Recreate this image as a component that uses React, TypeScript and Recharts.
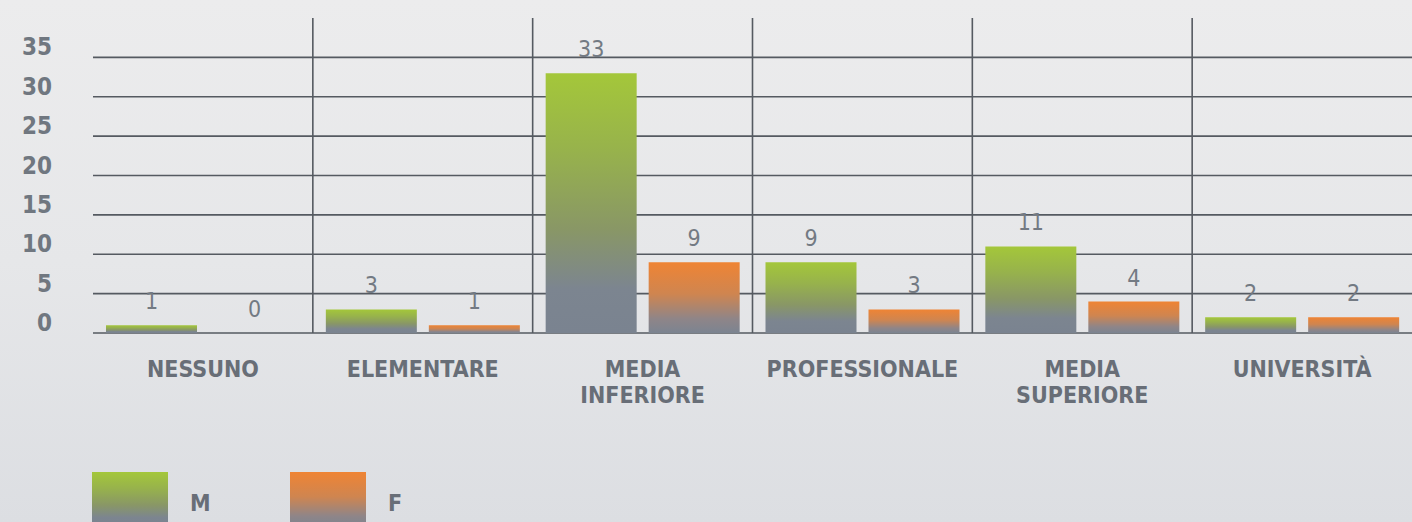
import React from 'react';
import { BarChart, Bar, XAxis, YAxis, CartesianGrid, LabelList, Legend } from 'recharts';

const categories = ['NESSUNO', 'ELEMENTARE', 'MEDIA\nINFERIORE', 'PROFESSIONALE', 'MEDIA\nSUPERIORE', 'UNIVERSITÀ'];
const maleValues = [1, 3, 33, 9, 11, 2];
const femaleValues = [0, 1, 9, 3, 4, 2];
const yTicks = [0, 5, 10, 15, 20, 25, 30, 35];
const yDomain = [0, 40];
const seriesNames = ['M', 'F'];

const data = categories.map((c, i) => ({ category: c, M: maleValues[i], F: femaleValues[i] }));

const FONT = '"DejaVu Sans Condensed", "DejaVu Sans", sans-serif';
const TEXT_GREY = '#686e77';
const LABEL_GREY = '#737a83';
const GRID = '#555a61';

const GreenStops = () => (
  <>
    <stop offset="0%" stopColor="#a4c73a" />
    <stop offset="30%" stopColor="#97b24c" />
    <stop offset="60%" stopColor="#899766" />
    <stop offset="83%" stopColor="#7c8590" />
    <stop offset="100%" stopColor="#7a8390" />
  </>
);
const OrangeStops = () => (
  <>
    <stop offset="0%" stopColor="#ef8434" />
    <stop offset="45%" stopColor="#cf8550" />
    <stop offset="80%" stopColor="#8f8588" />
    <stop offset="100%" stopColor="#7b8491" />
  </>
);

const XTick = (props: any) => {
  const { x, y, payload } = props;
  const lines = String(payload.value).split('\n');
  return (
    <text
      x={x}
      y={y}
      textAnchor="middle"
      fill={TEXT_GREY}
      fontFamily={FONT}
      fontWeight="bold"
      fontSize={23}
    >
      {lines.map((l: string, i: number) => (
        <tspan key={i} x={x} dy={i === 0 ? 44 : 26}>
          {l}
        </tspan>
      ))}
    </text>
  );
};

const YTick = (props: any) => {
  const { y, payload } = props;
  return (
    <text
      x={52}
      y={y - 2}
      textAnchor="end"
      fill="#707780"
      fontFamily={FONT}
      fontWeight="bold"
      fontSize={24}
    >
      {payload.value}
    </text>
  );
};

const ValueLabel = (props: any) => {
  const { x, y, width, value } = props;
  if (value === undefined || value === null) return null;
  return (
    <text
      x={Number(x) + Number(width) / 2}
      y={Number(y) - 16}
      textAnchor="middle"
      fill={LABEL_GREY}
      fontFamily={FONT}
      fontSize={23}
    >
      {value}
    </text>
  );
};

const renderLegend = () => (
  <div style={{ position: 'relative', width: 420, height: 60 }}>
    {seriesNames.map((n, i) => (
      <div key={n} style={{ position: 'absolute', left: i * 198, top: 0 }}>
        <svg width={76} height={55} style={{ display: 'block' }}>
          <defs>
            <linearGradient id={`leg${n}`} x1="0" y1="0" x2="0" y2="1">
              {i === 0 ? <GreenStops /> : <OrangeStops />}
            </linearGradient>
          </defs>
          <rect x={0} y={0} width={76} height={55} fill={`url(#leg${n})`} />
        </svg>
        <span
          style={{
            position: 'absolute',
            left: 98,
            top: 18,
            fontFamily: FONT,
            fontWeight: 'bold',
            fontSize: 23,
            color: TEXT_GREY,
            lineHeight: '26px',
          }}
        >
          {n}
        </span>
      </div>
    ))}
  </div>
);

export default function App() {
  return (
    <div
      style={{
        position: 'absolute',
        left: 0,
        top: 0,
        width: 1412,
        height: 522,
        overflow: 'hidden',
        background: 'linear-gradient(180deg, #ececed 0%, #e6e7e9 50%, #dcdee2 100%)',
      }}
    >
      <BarChart
        width={1412}
        height={522}
        data={data}
        margin={{ top: 18, right: 0, left: 0, bottom: 129 }}
        barCategoryGap={13}
        barGap={12}
      >
        <defs>
          <linearGradient id="gradM" x1="0" y1="0" x2="0" y2="1">
            <GreenStops />
          </linearGradient>
          <linearGradient id="gradF" x1="0" y1="0" x2="0" y2="1">
            <OrangeStops />
          </linearGradient>
        </defs>
        <CartesianGrid
          stroke={GRID}
          strokeWidth={1.6}
          horizontalCoordinatesGenerator={({ yAxis, offset }: any) =>
            yTicks.map((v) =>
              yAxis && typeof yAxis.scale === 'function'
                ? yAxis.scale(v)
                : offset.top + offset.height * (1 - v / yDomain[1])
            )
          }
          verticalCoordinatesGenerator={({ offset }: any) =>
            [1, 2, 3, 4, 5].map((i) => offset.left + (offset.width * i) / categories.length)
          }
        />
        <XAxis
          dataKey="category"
          height={60}
          axisLine={false}
          tickLine={false}
          tickSize={0}
          tickMargin={0}
          interval={0}
          tick={<XTick />}
        />
        <YAxis
          width={93}
          domain={yDomain}
          ticks={yTicks}
          axisLine={false}
          tickLine={false}
          tick={<YTick />}
          allowDataOverflow
        />
        <Legend
          layout="horizontal"
          verticalAlign="middle"
          align="center"
          content={renderLegend}
          wrapperStyle={{ top: 472, left: 92, width: 420, height: 60 }}
        />
        <Bar dataKey="M" name="M" fill="url(#gradM)" minPointSize={0.01} isAnimationActive={false}>
          <LabelList dataKey="M" content={<ValueLabel />} />
        </Bar>
        <Bar dataKey="F" name="F" fill="url(#gradF)" minPointSize={0.01} isAnimationActive={false}>
          <LabelList dataKey="F" content={<ValueLabel />} />
        </Bar>
      </BarChart>
    </div>
  );
}
